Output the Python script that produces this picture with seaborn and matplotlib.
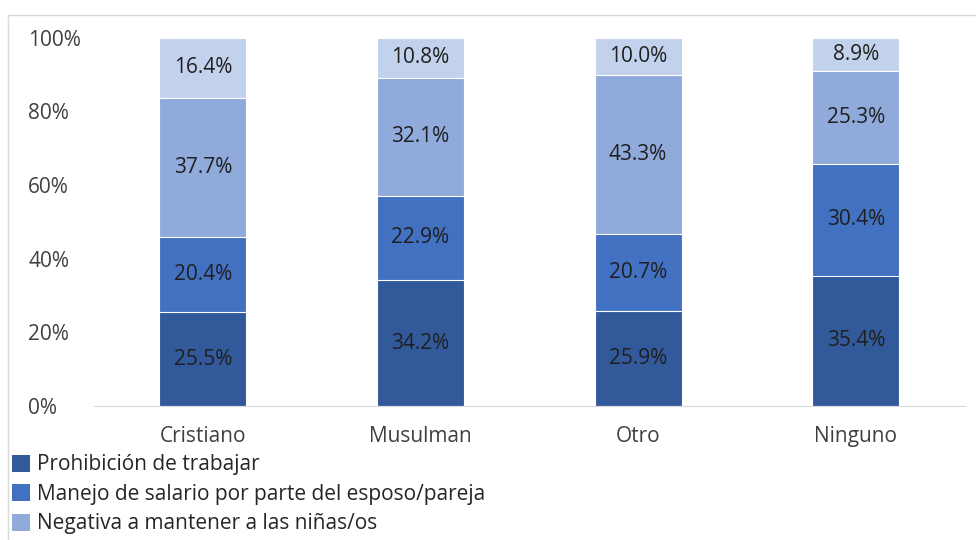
import numpy as np
import pandas as pd
import matplotlib
matplotlib.use('Agg')
import matplotlib.pyplot as plt
import matplotlib.patches as mpatches
import seaborn as sns

###################################################################################
# Data (percent per religion)

categories = ['Cristiano', 'Musulman', 'Otro', 'Ninguno']
series_names = ['Prohibición de trabajar',
                'Manejo de salario por parte del esposo/pareja',
                'Negativa a mantener a las niñas/os',
                'Otros']
prohibicion = [25.5, 34.2, 25.9, 35.4]
manejo = [20.4, 22.9, 20.7, 30.4]
negativa = [37.7, 32.1, 43.3, 25.3]
otros = [16.4, 10.8, 10.0, 8.9]

colors = ['#325A9B', '#4271C1', '#8FAADB', '#C3D2EC']

###################################################################################
# Plot

sns.set_style('white')
plt.rcParams['font.family'] = ['Open Sans', 'DejaVu Sans']
FS = 15

df = pd.DataFrame({'religion': categories,
                   series_names[0]: prohibicion,
                   series_names[1]: manejo,
                   series_names[2]: negativa,
                   series_names[3]: otros})
vals = df[series_names].to_numpy()
cum = vals.cumsum(axis=1)

fig = plt.figure(figsize=(9.76, 5.4), dpi=100)
ax = fig.add_axes([0.0963, 0.248, 0.892, 0.682])

# stacked: draw cumulative totals from the top down
for i in reversed(range(len(series_names))):
    sns.barplot(x=df['religion'], y=cum[:, i], color=colors[i], width=0.4,
                edgecolor='white', linewidth=0.8, saturation=1, ax=ax,
                order=categories)

for j in range(len(categories)):
    for i in range(len(series_names)):
        ax.text(j, cum[j, i] - vals[j, i] / 2, f'{vals[j, i]:.1f}%',
                ha='center', va='center', fontsize=FS, color='#1F1F1F')

ax.set_ylim(0, 100)
ax.set_yticks(np.arange(0, 101, 20))
ax.set_yticklabels([f'{t}%' for t in range(0, 101, 20)], ha='left')
ax.set_xlabel('')
ax.set_ylabel('')
ax.tick_params(axis='both', length=0, labelsize=FS, colors='#404040')
ax.tick_params(axis='y', pad=47.5)
ax.tick_params(axis='x', pad=14)
for s in ['top', 'right', 'left']:
    ax.spines[s].set_visible(False)
ax.spines['bottom'].set_color('#D9D9D9')

handles = [mpatches.Patch(facecolor=c, edgecolor='none') for c in colors]
# last entry is cut by the figure edge in the original, only its swatch peeks in
fig.legend(handles, series_names[:3] + [''], loc='upper left',
           bbox_to_anchor=(0.004, 1 - 446 / 540), frameon=False,
           fontsize=FS, handlelength=0.87, handleheight=0.87,
           handletextpad=0.3, labelspacing=0.41, borderaxespad=0,
           labelcolor='#262626')

# chart area border
fig.patches.append(mpatches.Rectangle((8 / 976, -0.2), 2, 1.2 - 15 / 540,
                                      transform=fig.transFigure, fill=False,
                                      edgecolor='#D9D9D9', linewidth=1))

fig.savefig('out.png', dpi=100)
